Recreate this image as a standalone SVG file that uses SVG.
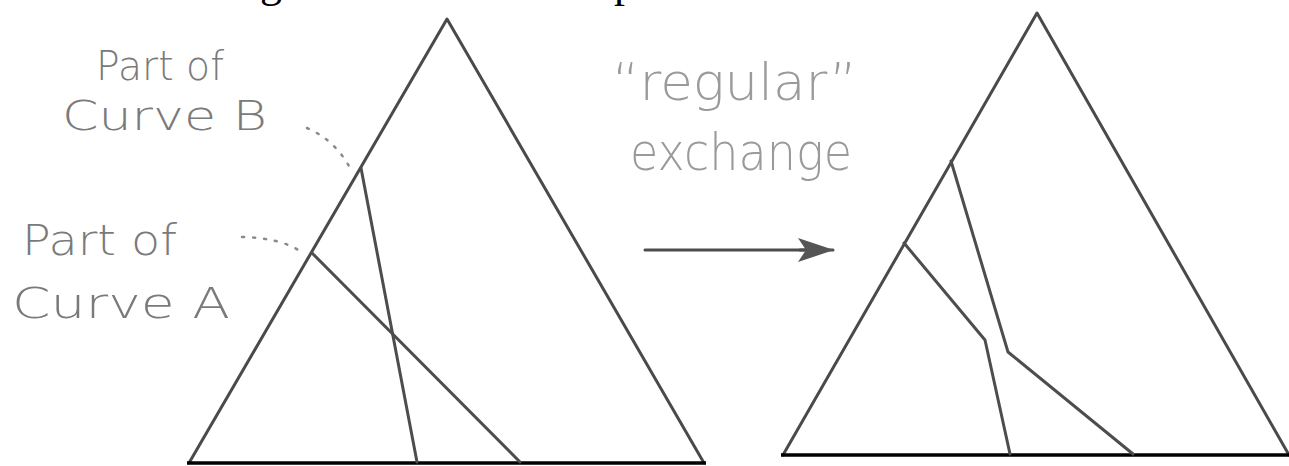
<svg xmlns="http://www.w3.org/2000/svg" width="1289" height="466" viewBox="0 0 1289 466">
  <defs>
    <style>
      .edge { fill: none; stroke: #4a4a4a; stroke-width: 3; stroke-linejoin: round; stroke-linecap: round; }
      .base { fill: none; stroke: #000; stroke-width: 3.5; }
      .curve { fill: none; stroke: #4d4d4f; stroke-width: 3; stroke-linejoin: round; stroke-linecap: round; }
      .dots { fill: none; stroke: #8a8a8a; stroke-width: 2.5; stroke-linecap: round; stroke-dasharray: 2 9; }
      .hand { font-family: "DejaVu Sans", "Liberation Sans", sans-serif; font-weight: 200; fill: #7a7a7a; }
      .hand2 { font-family: "DejaVu Sans", "Liberation Sans", sans-serif; font-weight: 200; fill: #9a9a9a; }
      .title { font-family: "Liberation Serif", serif; font-size: 44px; fill: #000; }
    </style>
    <marker id="ah" viewBox="0 0 36 24" refX="35" refY="12" markerWidth="36" markerHeight="24" markerUnits="userSpaceOnUse" orient="auto">
      <path d="M0,0 L36,12 L0,24 L8,12 Z" fill="#555"/>
    </marker>
  </defs>

  <!-- cut-off title descenders -->
  <g id="title-fragment">
    <text class="title" x="260" y="-3">g</text>
    <text class="title" x="614" y="-3">p</text>
  </g>

  <!-- left triangle (before) -->
  <g id="triangle-before">
    <polyline class="edge" points="189,463 447,19 704,463"/>
    <line class="base" x1="187" y1="463" x2="706" y2="463"/>
  </g>

  <g id="labels-before">
    <text class="hand" font-size="40" x="96" y="80" textLength="128" lengthAdjust="spacingAndGlyphs">Part of</text>
    <text class="hand" font-size="40" x="62" y="130" textLength="205" lengthAdjust="spacingAndGlyphs">Curve B</text>
    <text class="hand" font-size="42" x="22" y="255" textLength="155" lengthAdjust="spacingAndGlyphs">Part of</text>
    <text class="hand" font-size="42" x="12" y="318" textLength="218" lengthAdjust="spacingAndGlyphs">Curve A</text>
  </g>

  <g id="label-exchange">
    <text class="hand2" font-size="52" x="612" y="100" textLength="245" lengthAdjust="spacingAndGlyphs">“regular”</text>
    <text class="hand2" font-size="52" x="630" y="170" textLength="222" lengthAdjust="spacingAndGlyphs">exchange</text>
  </g>

  <!-- right triangle (after) -->
  <g id="triangle-after">
    <polyline class="edge" points="783,455 1037,13 1289,455"/>
    <line class="base" x1="781" y1="455" x2="1289" y2="455"/>
  </g>

  <g id="connectors">
    <!-- before: curve B and curve A crossing -->
    <line id="curve-B-before" class="curve" x1="361" y1="168" x2="417" y2="462"/>
    <line id="curve-A-before" class="curve" x1="312" y1="253" x2="520" y2="462"/>
    <!-- dotted leaders -->
    <path class="dots" d="M307,128 Q335,140 350,168"/>
    <path class="dots" d="M242,237 Q280,238 300,251"/>
    <!-- exchange arrow -->
    <line id="arrow" class="curve" x1="645" y1="250" x2="805" y2="250"/>
    <line class="curve" x1="800" y1="250" x2="833" y2="250" stroke-width="0.1" marker-end="url(#ah)"/>
    <!-- after -->
    <polyline id="curve-A-after" class="curve" points="904,243 985,340 1010,454"/>
    <polyline id="curve-B-after" class="curve" points="951,161 1008,352 1133,454"/>
  </g>
</svg>
